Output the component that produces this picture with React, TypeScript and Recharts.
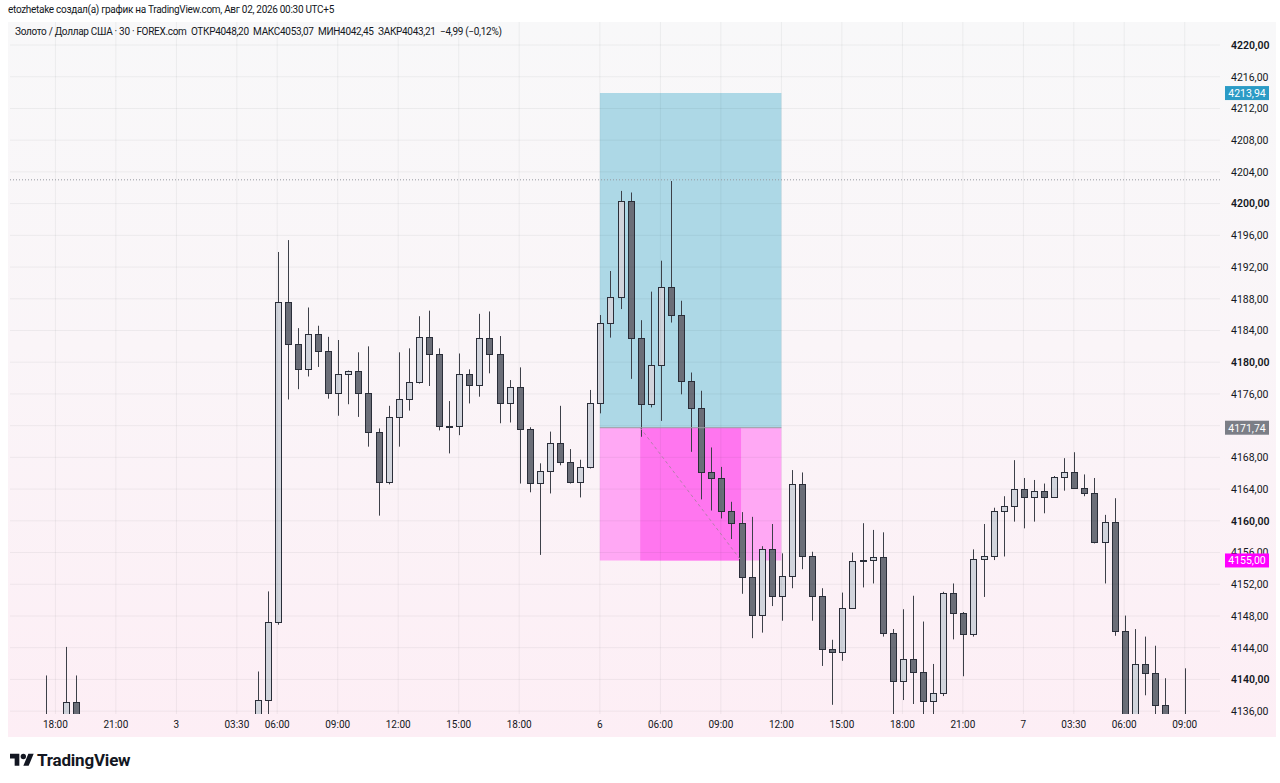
import React from 'react'
import { ComposedChart, Bar, XAxis, YAxis, ReferenceLine, ReferenceArea } from 'recharts'

const FONT = 'Roboto, "Noto Sans", sans-serif'
const TEXT = '#131722'
const GRID = 'rgba(42,46,57,0.06)'

// 30-minute candles, index 0..113 (null = no bar on screen)
const opens = [
  4135.5, null, 4135.2, 4137.2, null, null, null, null, null, null,
  null, null, null, null, null, null, null, null, null, null,
  null, 4135.0, 4137.4, 4147.2, 4187.6, 4182.3, 4179.1, 4183.5, 4181.4, 4176.1,
  4178.55, 4178.85, 4176.1, 4171.2, 4164.85, 4173.1, 4175.4, 4177.5, 4183.2, 4181.0,
  4172.0, 4171.95, 4178.5, 4177.1, 4183.1, 4181.0, 4174.8, 4176.9, 4171.55, 4164.8,
  4166.3, 4169.85, 4167.45, 4164.85, 4166.8, 4174.9, 4184.9, 4188.25, 4200.35, 4183.1,
  4174.7, 4179.7, 4189.45, 4185.95, 4177.65, 4174.2, 4166.1, 4165.35, 4161.3, 4159.7,
  4152.95, 4148.1, 4156.5, 4150.5, 4153.1, 4164.6, 4155.55, 4150.5, 4143.8, 4143.4,
  4149.05, 4154.95, 4155.05, 4155.4, 4145.9, 4139.8, 4142.55, 4140.9, 4137.3, 4138.25,
  4150.85, 4148.4, 4145.7, 4155.2, 4155.55, 4161.3, 4161.9, 4163.95, 4162.95, 4163.8,
  4163.05, 4165.5, 4166.1, 4164.2, 4163.45, 4157.35, 4159.9, 4146.15, 4134.5, 4142.0,
  4140.8, 4136.8, null, 4134.5,
]
const highs = [
  4140.5, null, 4144.1, 4140.5, null, null, null, null, null, null,
  null, null, null, null, null, null, null, null, null, null,
  null, 4141.0, 4151.1, 4193.9, 4195.4, 4184.3, 4186.9, 4184.6, 4183.2, 4182.8,
  4178.95, 4181.25, 4182.0, 4171.65, 4174.5, 4181.25, 4181.75, 4185.8, 4186.5, 4181.75,
  4175.1, 4181.1, 4179.1, 4186.1, 4186.4, 4183.3, 4177.75, 4179.35, 4171.8, 4167.25,
  4171.25, 4174.5, 4169.05, 4167.7, 4176.5, 4185.95, 4191.5, 4201.6, 4201.4, 4185.3,
  4188.9, 4192.8, 4202.85, 4187.75, 4178.7, 4176.4, 4169.25, 4166.8, 4162.4, 4161.1,
  4160.5, 4156.8, 4159.6, 4155.9, 4166.4, 4166.1, 4156.1, 4151.5, 4145.0, 4150.95,
  4156.0, 4159.7, 4158.85, 4158.55, 4146.35, 4148.85, 4150.55, 4147.3, 4141.95, 4151.05,
  4152.1, 4148.5, 4156.4, 4159.6, 4161.65, 4163.1, 4167.65, 4165.4, 4165.15, 4164.7,
  4165.65, 4167.9, 4168.65, 4165.85, 4165.4, 4160.75, 4162.85, 4148.05, 4146.35, 4145.4,
  4144.25, 4140.15, null, 4141.4,
]
const lows = [
  4134.5, null, 4134.8, 4135.0, null, null, null, null, null, null,
  null, null, null, null, null, null, null, null, null, null,
  null, 4134.8, 4135.4, 4146.9, 4175.3, 4176.6, 4178.2, 4179.4, 4175.4, 4173.25,
  4174.7, 4173.1, 4169.35, 4160.65, 4164.6, 4169.35, 4173.9, 4177.3, 4177.0, 4171.4,
  4168.5, 4170.8, 4174.8, 4175.65, 4178.6, 4172.3, 4172.4, 4164.7, 4163.6, 4155.7,
  4163.45, 4167.0, 4164.7, 4162.95, 4166.6, 4173.55, 4183.1, 4186.7, 4177.9, 4170.6,
  4174.3, 4172.6, 4185.0, 4175.95, 4168.7, 4162.7, 4161.3, 4160.3, 4157.7, 4150.8,
  4145.2, 4145.9, 4149.25, 4147.4, 4151.5, 4153.9, 4147.4, 4141.7, 4136.8, 4142.35,
  4148.9, 4151.6, 4152.1, 4145.4, 4135.3, 4137.4, 4136.9, 4135.5, 4135.4, 4137.9,
  4145.05, 4140.4, 4145.4, 4150.4, 4155.05, 4155.5, 4159.9, 4159.05, 4159.9, 4160.95,
  4162.95, 4163.8, 4164.15, 4163.1, 4157.15, 4152.1, 4145.5, 4133.0, 4133.5, 4138.0,
  4135.5, 4134.5, null, 4133.0,
]
const closes = [
  4135.2, null, 4137.2, 4135.3, null, null, null, null, null, null,
  null, null, null, null, null, null, null, null, null, null,
  null, 4137.4, 4147.2, 4187.6, 4182.3, 4179.1, 4183.5, 4181.4, 4176.1, 4178.55,
  4178.85, 4176.1, 4171.2, 4164.85, 4173.1, 4175.4, 4177.5, 4183.2, 4181.0, 4172.0,
  4171.95, 4178.5, 4177.1, 4183.1, 4181.0, 4174.8, 4176.9, 4171.55, 4164.8, 4166.3,
  4169.85, 4167.45, 4164.85, 4166.8, 4174.9, 4184.9, 4188.25, 4200.35, 4183.1, 4174.7,
  4179.7, 4189.45, 4185.95, 4177.65, 4174.2, 4166.1, 4165.35, 4161.3, 4159.7, 4152.95,
  4148.1, 4156.5, 4150.5, 4153.1, 4164.6, 4155.55, 4150.5, 4143.8, 4143.4, 4149.05,
  4154.95, 4155.05, 4155.4, 4145.9, 4139.8, 4142.55, 4140.9, 4137.3, 4138.25, 4150.85,
  4148.4, 4145.7, 4155.2, 4155.55, 4161.3, 4161.9, 4163.95, 4162.95, 4163.8, 4163.05,
  4165.5, 4166.1, 4164.2, 4163.45, 4157.35, 4159.9, 4146.15, 4134.0, 4142.0, 4140.8,
  4136.8, 4135.2, null, 4135.2,
]

const timeLabels: [number, string][] = [
  [1, '18:00'], [7, '21:00'], [13, '3'], [19, '03:30'], [23, '06:00'], [29, '09:00'],
  [35, '12:00'], [41, '15:00'], [47, '18:00'], [55, '6'], [61, '06:00'], [67, '09:00'],
  [73, '12:00'], [79, '15:00'], [85, '18:00'], [91, '21:00'], [97, '7'], [102, '03:30'],
  [107, '06:00'], [113, '09:00'],
]
const priceTicks = [4136, 4140, 4144, 4148, 4152, 4156, 4160, 4164, 4168, 4172, 4176, 4180,
  4184, 4188, 4192, 4196, 4200, 4204, 4208, 4212, 4216, 4220]
const boldTicks = [4140, 4160, 4180, 4200, 4220]

// short position tool
const stopPrice = 4213.94
const entryPrice = 4171.74
const targetPrice = 4155.0
const tradeFrom = 55
const tradeTo = 73
const fillFrom = 59
const fillTo = 69
const dottedPrice = 4203.0

// price tags on the scale, drawn after the plain tick labels so they sit on top
const tagColors = new Map<number, string>([
  [stopPrice, '#2b9bc6'],
  [entryPrice, '#7b7e86'],
  [targetPrice, '#ff00ff'],
])

const Y_MIN = 4135.64
const Y_MAX = 4222.9
const X_FIRST = -3
const X_LAST = 116

const labelAt = new Map(timeLabels)

const rows: any[] = []
for (let i = X_FIRST; i <= X_LAST; i++) {
  const o = opens[i] ?? null
  if (o == null) {
    rows.push({ i })
  } else {
    rows.push({ i, o, h: highs[i], l: lows[i], c: closes[i], range: [lows[i], highs[i]] })
  }
}

const fmt = (v: number) => v.toFixed(2).replace('.', ',')

function Candle(props: any) {
  const { x, y, width, height, payload } = props
  if (!payload || payload.o == null || !isFinite(y) || !isFinite(height)) return null
  const { o, h, l, c } = payload
  const top = Math.min(y, y + height)
  const bottom = Math.max(y, y + height)
  const span = h - l
  const toY = (v: number) => (span > 0 ? top + ((h - v) / span) * (bottom - top) : top)
  const cx = Math.round(x + width / 2) + 0.5
  const up = c >= o
  const bTop = Math.round(toY(Math.max(o, c))) + 0.5
  const bBot = Math.max(Math.round(toY(Math.min(o, c))) + 0.5, bTop + 1)
  return (
    <g>
      <line x1={cx} x2={cx} y1={top} y2={bottom} stroke="#3d4049" strokeWidth={1} />
      <rect x={cx - 3} y={bTop} width={6} height={bBot - bTop}
        fill={up ? '#d1d4dc' : '#6b6e78'} stroke="#2a2e39" strokeWidth={1} />
    </g>
  )
}

const TimeTick = ({ x, y, payload }: any) => {
  const label = labelAt.get(payload.value)
  if (!label) return null
  return (
    <text x={x} y={y} dy={13.5} textAnchor="middle" fontSize={10} fill={TEXT} fontFamily={FONT}>
      {label}
    </text>
  )
}

const PriceTick = ({ x, y, payload }: any) => {
  const tag = tagColors.get(payload.value)
  if (tag) {
    return (
      <g>
        <rect x={x - 6} y={y - 7} width={44} height={14} fill={tag} />
        <text x={x + 16} y={y} dy={3.8} textAnchor="middle" fontSize={10.5} fill="#fff" fontFamily={FONT}>
          {fmt(payload.value)}
        </text>
      </g>
    )
  }
  return (
    <text x={x} y={y} dy={3.8} fontSize={10.5} fill={TEXT} fontFamily={FONT}
      fontWeight={boldTicks.includes(payload.value) ? 600 : 400}>
      {fmt(payload.value)}
    </text>
  )
}

function Logo() {
  return (
    <svg width="24" height="19" viewBox="0 0 36 28">
      <path d="M14 22H7V11H0V4h14v18zM28 22h-8l7.5-18h8L28 22z" fill={TEXT} />
      <circle cx="20" cy="8" r="4" fill={TEXT} />
    </svg>
  )
}

export default function App() {
  return (
    <div style={{ position: 'absolute', left: 0, top: 0, width: 1280, height: 783, background: '#fff', overflow: 'hidden', fontFamily: FONT }}>
      <div style={{ position: 'absolute', left: 8, top: 4, fontSize: 10, letterSpacing: -0.3, color: TEXT, whiteSpace: 'nowrap' }}>
        etozhetake создал(а) график на TradingView.com, Авг 02, 2026 00:30 UTC+5
      </div>
      <div style={{
        position: 'absolute', left: 8, top: 22, width: 1268, height: 715,
        background: 'linear-gradient(to bottom, #f8f8f9 0%, #faf5f8 45%, #fdeef5 100%)',
      }} />
      <div style={{ position: 'absolute', left: 0, top: 0 }}>
        <ComposedChart width={1280} height={740} data={rows} barSize={7}
          margin={{ top: 22, right: 5, bottom: 3, left: 10 }}>
          <XAxis dataKey="i" type="category" interval={0} tickLine={false} axisLine={false}
            height={23} tickSize={0} tickMargin={0} tick={<TimeTick />} />
          <XAxis xAxisId="n" dataKey="i" type="number" domain={[X_FIRST - 0.5, X_LAST + 0.5]}
            allowDataOverflow hide />
          <YAxis orientation="right" domain={[Y_MIN, Y_MAX]} allowDataOverflow
            ticks={[...priceTicks, ...tagColors.keys()]}
            interval={0} width={55} tickLine={false} axisLine={false} tickSize={0} tickMargin={11}
            tick={<PriceTick />} />
          {priceTicks.map((p) => (
            <ReferenceLine key={'h' + p} y={p} stroke={GRID} />
          ))}
          {timeLabels.map(([idx]) => (
            <ReferenceLine key={'v' + idx} xAxisId="n" x={idx} stroke={GRID} />
          ))}
          <ReferenceLine y={dottedPrice} stroke="#9598a1" strokeDasharray="1 2" />
          <ReferenceArea xAxisId="n" x1={tradeFrom} x2={tradeTo} y1={entryPrice} y2={stopPrice}
            fill="#add8e6" fillOpacity={1} stroke="none" />
          <ReferenceArea xAxisId="n" x1={tradeFrom} x2={tradeTo} y1={targetPrice} y2={entryPrice}
            fill="#ffa8f4" fillOpacity={1} stroke="none" />
          <ReferenceArea xAxisId="n" x1={fillFrom} x2={fillTo} y1={targetPrice} y2={entryPrice}
            fill="#ff76ef" fillOpacity={1} stroke="none" />
          <ReferenceLine xAxisId="n" segment={[{ x: tradeFrom, y: entryPrice }, { x: tradeTo, y: entryPrice }]}
            stroke="#9a9ca3" />
          <ReferenceLine xAxisId="n" segment={[{ x: fillFrom, y: entryPrice }, { x: fillTo, y: targetPrice }]}
            stroke="#b57fab" strokeDasharray="3 3" />
          <Bar dataKey="range" shape={<Candle />} isAnimationActive={false} />
        </ComposedChart>
      </div>
      <div style={{ position: 'absolute', left: 15, top: 26, fontSize: 10, letterSpacing: -0.3, color: TEXT, whiteSpace: 'pre' }}>
        {'Золото / Доллар США · 30 · FOREX.com  ОТКР4048,20  МАКС4053,07  МИН4042,45  ЗАКР4043,21  −4,99 (−0,12%)'}
      </div>
      <div style={{ position: 'absolute', left: 10, top: 750, display: 'flex', alignItems: 'center', gap: 3 }}>
        <Logo />
        <span style={{ fontSize: 17, fontWeight: 700, color: TEXT, letterSpacing: -0.2 }}>TradingView</span>
      </div>
    </div>
  )
}
